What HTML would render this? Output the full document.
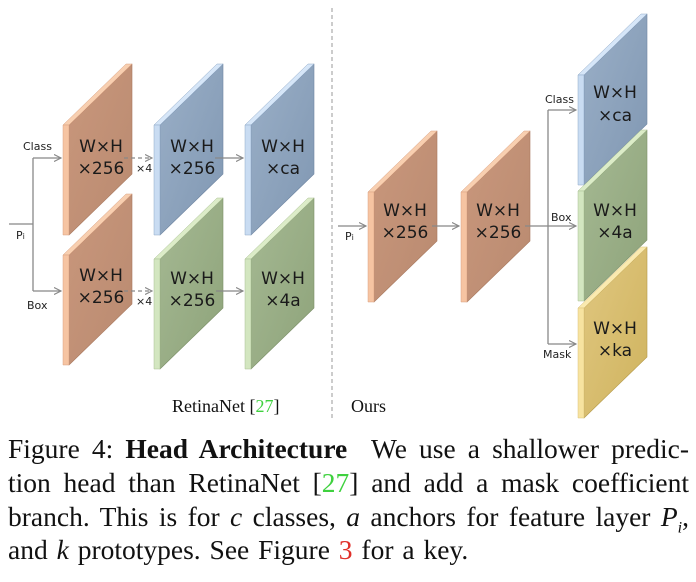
<!DOCTYPE html>
<html><head><meta charset="utf-8"><style>
body{margin:0;background:#fff;width:696px;height:582px;overflow:hidden;position:relative}
svg{position:absolute;left:0;top:0}
.cap{position:absolute;left:8px;width:681px;font-family:"Liberation Serif",serif;font-size:27.5px;line-height:30px;color:#111;white-space:nowrap}
.j{text-align:justify;text-align-last:justify;white-space:normal;word-spacing:-1px}
</style></head><body>
<svg width="696" height="420" viewBox="0 0 696 420" font-family="'DejaVu Sans',sans-serif">
<defs>
<linearGradient id="go" x1="0" y1="0" x2="1" y2="1"><stop offset="0" stop-color="#c9977c"/><stop offset="1" stop-color="#b98a70"/></linearGradient>
<linearGradient id="gb" x1="0" y1="0" x2="1" y2="1"><stop offset="0" stop-color="#9aafc7"/><stop offset="1" stop-color="#8097b2"/></linearGradient>
<linearGradient id="gg" x1="0" y1="0" x2="1" y2="1"><stop offset="0" stop-color="#a5b993"/><stop offset="1" stop-color="#8ea37a"/></linearGradient>
<linearGradient id="gy" x1="0" y1="0" x2="1" y2="1"><stop offset="0" stop-color="#e0c780"/><stop offset="1" stop-color="#cfb35e"/></linearGradient>
<marker id="ar" markerWidth="8" markerHeight="8" refX="7" refY="4" orient="auto" markerUnits="userSpaceOnUse"><path d="M0,0.5 L7,4 L0,7.5" fill="none" stroke="#888" stroke-width="1.2"/></marker>
</defs>
<g stroke-linejoin="round">
<g transform="translate(63,125)"><polygon points="6,0 69,-61 69,49 6,110" fill="url(#go)" stroke="#a9795f" stroke-width=".6"/><polygon points="0,0 63,-61 69,-61 6,0" fill="#f8cfb0" stroke="#d9a080" stroke-width=".5"/><rect x="0" y="0" width="6" height="110" fill="#f6c4a2" stroke="#d9a080" stroke-width=".5"/></g>
<g transform="translate(154,125)"><polygon points="6,0 69,-61 69,49 6,110" fill="url(#gb)" stroke="#6f86a2" stroke-width=".6"/><polygon points="0,0 63,-61 69,-61 6,0" fill="#d6e6f8" stroke="#8fa8c6" stroke-width=".5"/><rect x="0" y="0" width="6" height="110" fill="#c9dcf2" stroke="#8fa8c6" stroke-width=".5"/></g>
<g transform="translate(245,125)"><polygon points="6,0 69,-61 69,49 6,110" fill="url(#gb)" stroke="#6f86a2" stroke-width=".6"/><polygon points="0,0 63,-61 69,-61 6,0" fill="#d6e6f8" stroke="#8fa8c6" stroke-width=".5"/><rect x="0" y="0" width="6" height="110" fill="#c9dcf2" stroke="#8fa8c6" stroke-width=".5"/></g>
<g transform="translate(63,255)"><polygon points="6,0 69,-61 69,49 6,110" fill="url(#go)" stroke="#a9795f" stroke-width=".6"/><polygon points="0,0 63,-61 69,-61 6,0" fill="#f8cfb0" stroke="#d9a080" stroke-width=".5"/><rect x="0" y="0" width="6" height="110" fill="#f6c4a2" stroke="#d9a080" stroke-width=".5"/></g>
<g transform="translate(154,259)"><polygon points="6,0 69,-61 69,49 6,110" fill="url(#gg)" stroke="#7c9068" stroke-width=".6"/><polygon points="0,0 63,-61 69,-61 6,0" fill="#dcecc8" stroke="#a9bf93" stroke-width=".5"/><rect x="0" y="0" width="6" height="110" fill="#d3e6c0" stroke="#a9bf93" stroke-width=".5"/></g>
<g transform="translate(245,259)"><polygon points="6,0 69,-61 69,49 6,110" fill="url(#gg)" stroke="#7c9068" stroke-width=".6"/><polygon points="0,0 63,-61 69,-61 6,0" fill="#dcecc8" stroke="#a9bf93" stroke-width=".5"/><rect x="0" y="0" width="6" height="110" fill="#d3e6c0" stroke="#a9bf93" stroke-width=".5"/></g>
<g transform="translate(368,192)"><polygon points="6,0 69,-61 69,49 6,110" fill="url(#go)" stroke="#a9795f" stroke-width=".6"/><polygon points="0,0 63,-61 69,-61 6,0" fill="#f8cfb0" stroke="#d9a080" stroke-width=".5"/><rect x="0" y="0" width="6" height="110" fill="#f6c4a2" stroke="#d9a080" stroke-width=".5"/></g>
<g transform="translate(461,192)"><polygon points="6,0 69,-61 69,49 6,110" fill="url(#go)" stroke="#a9795f" stroke-width=".6"/><polygon points="0,0 63,-61 69,-61 6,0" fill="#f8cfb0" stroke="#d9a080" stroke-width=".5"/><rect x="0" y="0" width="6" height="110" fill="#f6c4a2" stroke="#d9a080" stroke-width=".5"/></g>
<g transform="translate(578,75)"><polygon points="6,0 69,-61 69,49 6,110" fill="url(#gb)" stroke="#6f86a2" stroke-width=".6"/><polygon points="0,0 63,-61 69,-61 6,0" fill="#d6e6f8" stroke="#8fa8c6" stroke-width=".5"/><rect x="0" y="0" width="6" height="110" fill="#c9dcf2" stroke="#8fa8c6" stroke-width=".5"/></g>
<g transform="translate(578,191)"><polygon points="6,0 69,-61 69,49 6,110" fill="url(#gg)" stroke="#7c9068" stroke-width=".6"/><polygon points="0,0 63,-61 69,-61 6,0" fill="#dcecc8" stroke="#a9bf93" stroke-width=".5"/><rect x="0" y="0" width="6" height="110" fill="#d3e6c0" stroke="#a9bf93" stroke-width=".5"/></g>
<g transform="translate(578,308)"><polygon points="6,0 69,-61 69,49 6,110" fill="url(#gy)" stroke="#b59a4a" stroke-width=".6"/><polygon points="0,0 63,-61 69,-61 6,0" fill="#faeab0" stroke="#d9c27a" stroke-width=".5"/><rect x="0" y="0" width="6" height="110" fill="#f7e3a0" stroke="#d9c27a" stroke-width=".5"/></g>
</g>
<g font-size="17" fill="#1a1a1a" text-anchor="middle">
<text x="101" y="152">W×H</text><text x="101" y="174">×256</text>
<text x="192" y="152">W×H</text><text x="192" y="174">×256</text>
<text x="283" y="152">W×H</text><text x="283" y="174">×ca</text>
<text x="101" y="281">W×H</text><text x="101" y="303">×256</text>
<text x="192" y="284">W×H</text><text x="192" y="306">×256</text>
<text x="283" y="284">W×H</text><text x="283" y="306">×4a</text>
<text x="405" y="216">W×H</text><text x="405" y="238">×256</text>
<text x="498" y="216">W×H</text><text x="498" y="238">×256</text>
<text x="615" y="98">W×H</text><text x="615" y="121">×ca</text>
<text x="615" y="216">W×H</text><text x="615" y="238">×4a</text>
<text x="615" y="334">W×H</text><text x="615" y="356">×ka</text>
</g>
<g stroke="#888" stroke-width="1.3" fill="none">
<path d="M9,224 H33 M33,158 V291"/>
<path d="M33,158 H61" marker-end="url(#ar)"/>
<path d="M33,291 H61" marker-end="url(#ar)"/>
<path d="M124,158 H152" stroke-dasharray="4,3" marker-end="url(#ar)"/>
<path d="M124,291 H152" stroke-dasharray="4,3" marker-end="url(#ar)"/>
<path d="M215,158 H243" marker-end="url(#ar)"/>
<path d="M216,291 H243" marker-end="url(#ar)"/>
<path d="M338,226 H366" marker-end="url(#ar)"/>
<path d="M432,226 H459" marker-end="url(#ar)"/>
<path d="M525,226 H548 M548,110 V344"/>
<path d="M548,110 H576" marker-end="url(#ar)"/>
<path d="M548,226 H576" marker-end="url(#ar)"/>
<path d="M548,344 H576" marker-end="url(#ar)"/>
</g>
<line x1="332" y1="8" x2="332" y2="418" stroke="#aaa" stroke-width="1.2" stroke-dasharray="4,3"/>
<g font-size="11" fill="#222">
<text x="23" y="150">Class</text><text x="27" y="309">Box</text>
<text x="16" y="239">P<tspan font-size="8">i</tspan></text>
<text x="136" y="172">×4</text><text x="136" y="305">×4</text>
<text x="345" y="240">P<tspan font-size="8">i</tspan></text>
<text x="545" y="103">Class</text><text x="551" y="221">Box</text><text x="543" y="358">Mask</text>
</g>
<g font-family="'Liberation Serif',serif" font-size="18" fill="#111">
<text x="172" y="412">RetinaNet [<tspan fill="#3fd13f">27</tspan>]</text>
<text x="351" y="412">Ours</text>
</g>
</svg>
<div class="cap j" style="top:434px">Figure 4: <b>Head Architecture</b>&nbsp; We use a shallower predic-</div>
<div class="cap j" style="top:468px">tion head than RetinaNet [<span style="color:#3fd13f">27</span>] and add a mask coefficient</div>
<div class="cap j" style="top:502px">branch. This is for <i>c</i> classes, <i>a</i> anchors for feature layer <i>P<sub style="font-size:16px">i</sub></i>,</div>
<div class="cap" style="top:535px;word-spacing:2px">and <i>k</i> prototypes. See Figure <span style="color:#e0302a">3</span> for a key.</div>
</body></html>
